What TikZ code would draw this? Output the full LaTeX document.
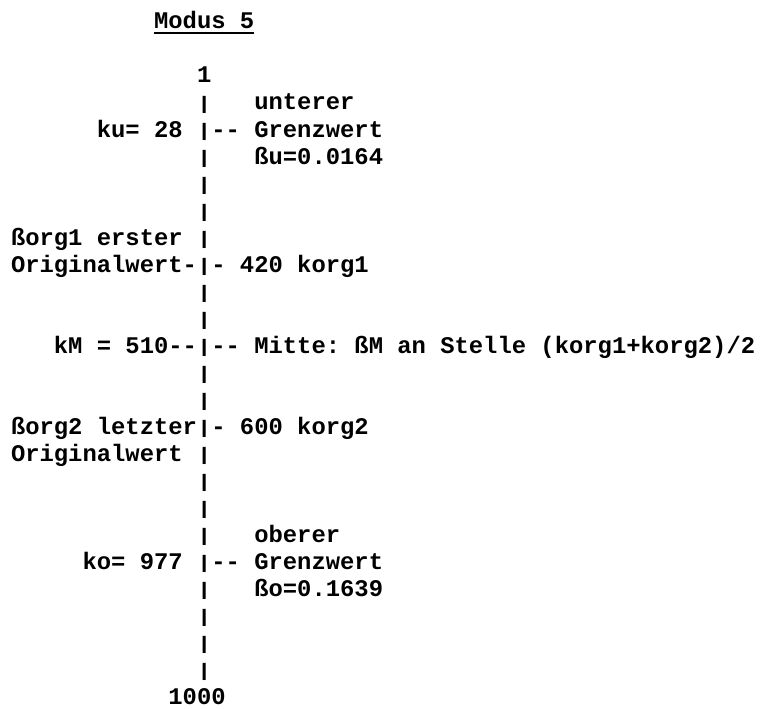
\documentclass[tikz,border=0pt]{standalone}
\usepackage{fontspec}
\setmonofont{Liberation Mono}
\usepackage{graphicx}
\usepackage{tikz}
\usetikzlibrary{positioning}
\newcommand{\axisbar}{\raisebox{0.8pt}{\scalebox{1}[0.76]{|}}}

\begin{document}
\begin{tikzpicture}[x=14.31pt, y=-27pt,
        every node/.style={anchor=base west, inner sep=0pt, outer sep=0pt,
            font=\ttfamily\bfseries\fontsize{23.85}{27}\selectfont\frenchspacing}]
    \useasboundingbox (0pt,0pt) rectangle (761pt,-709pt);
    \begin{scope}[shift={(11pt,-29pt)}]
        % Title
        \node (title) at (10,0) {Modus 5};
        \draw[line width=2.4pt] ([yshift=-4pt]title.base west) -- ([yshift=-4pt]title.base east);

        % Axis
        \node (top) at (13,2) {1};
        \foreach \r in {3,5,6,7,8,10,11,13,14,16,17,18,19,21,22,23,24}
            \node (bar\r) at (13,\r) {\axisbar};
        \node (bottom) at (11,25) {1000};

        % Lower limit
        \node (unterer) at (17,3) {unterer};
        \node (ku) at (6,4) {ku= 28};
        \node (tickU) at (13,4) {\axisbar--};
        \node (grenzU) at (17,4) {Grenzwert};
        \node (betaU) at (17,5) {ßu=0.0164};

        % First original value
        \node (org1a) at (0,8) {ßorg1 erster};
        \node (org1b) at (0,9) {Originalwert-};
        \node (tick1) at (13,9) {\axisbar-};
        \node (korg1) at (16,9) {420 korg1};

        % Middle
        \node (kM) at (3,12) {kM = 510--};
        \node (tickM) at (13,12) {\axisbar--};
        \node (mitte) at (17,12) {Mitte: ßM an Stelle (korg1+korg2)/2};

        % Last original value
        \node (org2a) at (0,15) {ßorg2 letzter};
        \node (tick2) at (13,15) {\axisbar-};
        \node (korg2) at (16,15) {600 korg2};
        \node (org2b) at (0,16) {Originalwert};

        % Upper limit
        \node (oberer) at (17,19) {oberer};
        \node (ko) at (5,20) {ko= 977};
        \node (tickO) at (13,20) {\axisbar--};
        \node (grenzO) at (17,20) {Grenzwert};
        \node (betaO) at (17,21) {ßo=0.1639};
    \end{scope}
\end{tikzpicture}
\end{document}
